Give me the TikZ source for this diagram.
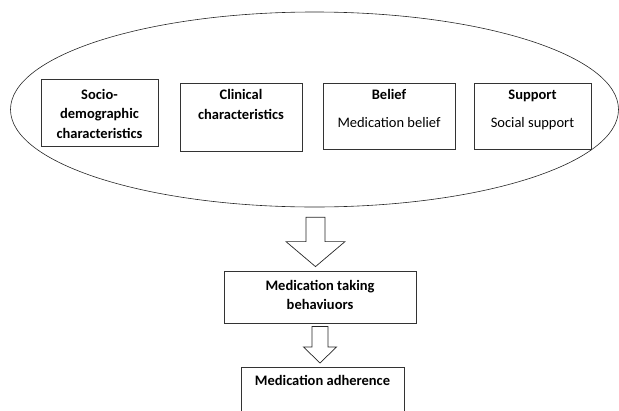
\documentclass[tikz,border=0pt]{standalone}
\usepackage{fontspec}
\setmainfont{Carlito}
\usetikzlibrary{calc,shapes.geometric}

\tikzset{
  frame/.style={draw=black!80, line width=0.8pt, inner sep=0pt},
  boxlabel/.style={align=center, font=\fontsize{14.5}{19.5}\selectfont, inner sep=0pt, anchor=north},
  blockarrow/.style={draw=black!85, line width=0.7pt, fill=white}
}

% block arrow: start, tip, half shaft, half head, head length
\newcommand{\fatarrow}[5]{%
  \draw[blockarrow] let \p1=(#1), \p2=(#2) in
    (\x1-#3pt,\y1) -- (\x1-#3pt,\y2+#5pt) -- (\x1-#4pt,\y2+#5pt) -- (\x1,\y2)
    -- (\x1+#4pt,\y2+#5pt) -- (\x1+#3pt,\y2+#5pt) -- (\x1+#3pt,\y1) -- cycle;
}

\begin{document}
\begin{tikzpicture}[x=1pt,y=-1pt]
  \useasboundingbox (0,0) rectangle (619,410);
  \clip (0,0) rectangle (619,410);
  % outer ellipse round the four factors
  \node[draw=black!85, line width=0.6pt, ellipse, inner sep=0pt,
        minimum width=608pt, minimum height=195pt] (ell) at (314.5,109.5) {};
  % factor boxes
  \node[frame, minimum width=117pt, minimum height=67pt] (socio) at (99.5,112.5) {};
  \node[frame, minimum width=122pt, minimum height=68pt] (clin) at (241,117) {};
  \node[frame, minimum width=132pt, minimum height=66pt] (belief) at (389,116) {};
  \node[frame, minimum width=117pt, minimum height=66pt] (support) at (532.5,116) {};
  % outcome boxes
  \node[frame, minimum width=192pt, minimum height=52pt] (behav) at (320,297) {};
  \node[frame, minimum width=163pt, minimum height=80pt, anchor=north] (adher) at (322.5,367) {};
  % texts
  \node[boxlabel, anchor=center] (sociot) at ($(socio)+(0,1)$) {\textbf{Socio-}\\\textbf{demographic}\\\textbf{characteristics}};
  \node[boxlabel] (clint) at ($(clin.north)+(0,7)$) {\textbf{Clinical}\\\textbf{characteristics}};
  \node[boxlabel] (belieft) at ($(belief.north)+(0,7)$) {\textbf{Belief}\\[8.5pt]Medication belief};
  \node[boxlabel] (supportt) at ($(support.north)+(0,7)$) {\textbf{Support}\\[8.5pt]Social support};
  \node[boxlabel, anchor=center] (behavt) at ($(behav.center)+(0,-2)$) {\textbf{Medication taking}\\\textbf{behaviuors}};
  \node[boxlabel] (adhert) at ($(adher.north)+(0,8)$) {\textbf{Medication adherence}};
  % arrows
  \fatarrow{$(ell.south)+(1,10)$}{$(ell.south |- behav.north)+(1,-4)$}{9.5}{29.5}{25}
  \fatarrow{$(behav.south)+(0,3)$}{$(behav.south |- adher.north)+(0,-4)$}{8}{16.5}{16}
\end{tikzpicture}
\end{document}
